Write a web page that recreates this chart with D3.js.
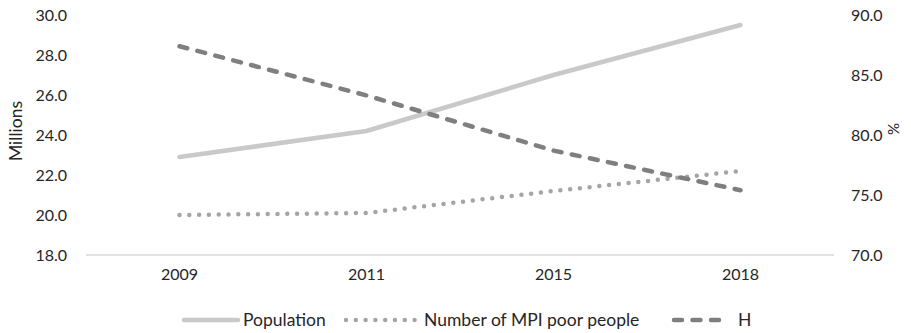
<!DOCTYPE html>
<html><head><meta charset="utf-8">
<script src="https://cdn.jsdelivr.net/npm/d3@7"></script>
<style>
body{margin:0;background:#fff;}
text{font-family:Lato,"Open Sans",sans-serif;fill:#262626;}
</style></head>
<body><svg id="c" width="911" height="333"></svg>
<script>
const years = ["2009","2011","2015","2018"];
const population = [22.9, 24.2, 27.0, 29.5];
const mpiPoor = [20.0, 20.1, 21.2, 22.2];
const H = [87.4, 83.3, 78.7, 75.4];
const leftTicks = [18,20,22,24,26,28,30];
const rightTicks = [70,75,80,85,90];

const svg = d3.select("#c");
const L = 86, R = 834, T = 15, B = 255;
const x = d3.scaleBand().domain(years).range([L, R]);
const yL = d3.scaleLinear().domain([18,30]).range([B, T]);
const yR = d3.scaleLinear().domain([70,90]).range([B, T]);
const fs = "16px";
const fsL = "17.5px";

// baseline
svg.append("line").attr("x1",L).attr("x2",R).attr("y1",yL(18)).attr("y2",yL(18))
  .attr("stroke","#d9d9d9").attr("stroke-width",1.3);

// axes
const ax = svg.append("g").attr("transform",`translate(0,${B})`)
  .call(d3.axisBottom(x).tickSize(0).tickPadding(14));
ax.select(".domain").remove();
ax.selectAll("text").style("font-size",fs).attr("fill","#262626");

const al = svg.append("g").attr("transform",`translate(${L-19},0)`)
  .call(d3.axisLeft(yL).tickValues(leftTicks).tickFormat(d3.format(".1f")).tickSize(0).tickPadding(0));
al.select(".domain").remove();
al.selectAll("text").style("font-size",fs).attr("fill","#262626");

const ar = svg.append("g").attr("transform",`translate(${R+17},0)`)
  .call(d3.axisRight(yR).tickValues(rightTicks).tickFormat(d3.format(".1f")).tickSize(0).tickPadding(0));
ar.select(".domain").remove();
ar.selectAll("text").style("font-size",fs).attr("fill","#262626");

svg.append("text").attr("transform",`translate(22,${(T+B)/2-4}) rotate(-90)`)
  .attr("text-anchor","middle").style("font-size",fsL).text("Millions");
svg.append("text").attr("transform",`translate(899,${(T+B)/2-6}) rotate(-90)`)
  .attr("text-anchor","middle").style("font-size","15px").text("%");

const cx = d => x(d) + x.bandwidth()/2;
const lineL = d3.line().x((d,i)=>cx(years[i])).y(d=>yL(d));
const lineR = d3.line().x((d,i)=>cx(years[i])).y(d=>yR(d));

svg.append("path").attr("d",lineL(population)).attr("fill","none")
  .attr("stroke","#c9c9c9").attr("stroke-width",4.5).attr("stroke-linecap","round").attr("stroke-linejoin","round");
svg.append("path").attr("d",lineL(mpiPoor)).attr("fill","none")
  .attr("stroke","#a5a5a5").attr("stroke-width",4.5).attr("stroke-linecap","round")
  .attr("stroke-dasharray","0 9.8");
svg.append("path").attr("d",lineR(H)).attr("fill","none")
  .attr("stroke","#7f7f7f").attr("stroke-width",4.5).attr("stroke-linecap","round").attr("stroke-linejoin","round")
  .attr("stroke-dasharray","8 10.5");

// legend
const ly = 320;
const leg = [
  {name:"Population", color:"#c9c9c9", dash:null, x0:184, x1:238, tx:243},
  {name:"Number of MPI poor people", color:"#a5a5a5", dash:"0 9.8", x0:346, x1:418, tx:424},
  {name:"H", color:"#7f7f7f", dash:"8 10.5", x0:674, x1:728, tx:738}
];
leg.forEach(l=>{
  const p = svg.append("line").attr("x1",l.x0).attr("x2",l.x1).attr("y1",ly).attr("y2",ly)
    .attr("stroke",l.color).attr("stroke-width",4.5).attr("stroke-linecap","round");
  if(l.dash) p.attr("stroke-dasharray",l.dash);
  svg.append("text").attr("x",l.tx).attr("y",ly).attr("dy","0.35em").style("font-size",fsL).text(l.name);
});
</script></body></html>
